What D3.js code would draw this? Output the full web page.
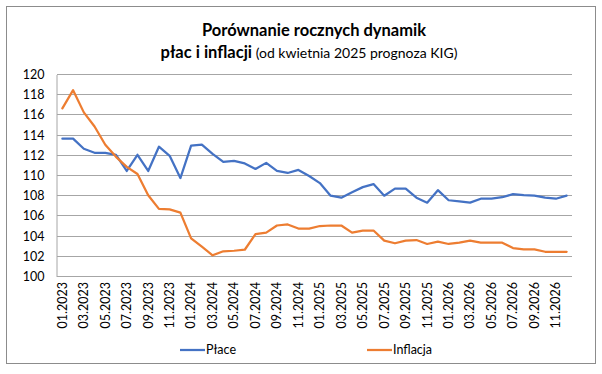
<!DOCTYPE html>
<html>
<head>
<meta charset="utf-8">
<script src="https://cdn.jsdelivr.net/npm/d3@7"></script>
<style>
  body { margin: 0; background: #fff; }
  svg { font-family: Lato, "Open Sans", sans-serif; }
</style>
</head>
<body>
<script>
  // months on the category axis
  let months = [
    "01.2023","02.2023","03.2023","04.2023","05.2023","06.2023","07.2023","08.2023","09.2023","10.2023","11.2023","12.2023",
    "01.2024","02.2024","03.2024","04.2024","05.2024","06.2024","07.2024","08.2024","09.2024","10.2024","11.2024","12.2024",
    "01.2025","02.2025","03.2025","04.2025","05.2025","06.2025","07.2025","08.2025","09.2025","10.2025","11.2025","12.2025",
    "01.2026","02.2026","03.2026","04.2026","05.2026","06.2026","07.2026","08.2026","09.2026","10.2026","11.2026","12.2026"
  ];

  let place = [113.6,113.6,112.6,112.2,112.2,112.0,110.4,112.0,110.4,112.8,111.9,109.7,
    112.9,113.0,112.1,111.3,111.4,111.15,110.6,111.2,110.4,110.2,110.5,109.9,
    109.2,107.95,107.75,108.3,108.8,109.1,107.95,108.65,108.65,107.75,107.26,108.5,
    107.5,107.4,107.26,107.65,107.65,107.8,108.1,108.0,107.95,107.75,107.65,107.95];

  let inflacja = [116.6,118.4,116.2,114.8,113.0,111.8,110.8,110.1,108.0,106.65,106.6,106.27,
    103.73,102.9,102.05,102.45,102.5,102.6,104.15,104.3,105.0,105.1,104.7,104.7,
    104.95,105.0,105.0,104.3,104.5,104.5,103.5,103.24,103.5,103.56,103.17,103.4,
    103.17,103.3,103.5,103.3,103.3,103.3,102.77,102.64,102.64,102.4,102.4,102.4];

  let yTicks = [100,102,104,106,108,110,112,114,116,118,120];

  let series = [
    { name: "Płace", values: place, color: "#4472C4" },
    { name: "Inflacja", values: inflacja, color: "#ED7D31" }
  ];

  let svg = d3.select("body").append("svg")
    .attr("width", 602)
    .attr("height", 374);

  // outer chart border
  svg.append("rect")
    .attr("x", 6.5).attr("y", 6.5)
    .attr("width", 589).attr("height", 357)
    .attr("fill", "#fff")
    .attr("stroke", "#8c8c8c");

  // title
  svg.append("text")
    .attr("x", 314).attr("y", 36)
    .attr("text-anchor", "middle")
    .style("font-size", "16.5px")
    .style("font-weight", "bold")
    .style("fill", "#000")
    .text("Porównanie rocznych dynamik");

  let sub = svg.append("text")
    .attr("x", 309).attr("y", 58)
    .attr("text-anchor", "middle")
    .style("fill", "#000");
  sub.append("tspan")
    .style("font-size", "16.5px")
    .style("font-weight", "bold")
    .text("płac i inflacji");
  sub.append("tspan")
    .style("font-size", "14px")
    .text(" (od kwietnia 2025 prognoza KIG)");

  let xScale = d3.scaleBand()
    .domain(months)
    .range([57, 572]);

  let yScale = d3.scaleLinear()
    .domain([100, 120])
    .range([276, 74]);

  let xMid = (d) => xScale(d) + xScale.bandwidth() / 2;

  // horizontal gridlines
  svg.append("g")
    .selectAll("line")
    .data(yTicks)
    .enter()
    .append("line")
      .attr("x1", 57).attr("x2", 572)
      .attr("y1", (d) => Math.round(yScale(d)) + 0.5)
      .attr("y2", (d) => Math.round(yScale(d)) + 0.5)
      .attr("stroke", "#a6a6a6")
      .attr("stroke-width", 1);

  // y axis
  let yAxis = svg.append("g")
    .attr("transform", "translate(56.5, 0.5)")
    .call(d3.axisLeft(yScale).tickValues(yTicks).tickSize(0).tickPadding(12));
  yAxis.select(".domain").attr("stroke", "#a6a6a6");
  yAxis.selectAll("text")
    .style("font-family", "Lato, 'Open Sans', sans-serif")
    .style("font-size", "12.5px")
    .style("fill", "#000");

  // x axis labels every second month
  let xAxis = svg.append("g")
    .attr("transform", "translate(0, 276)")
    .call(d3.axisBottom(xScale)
      .tickValues(months.filter((d, i) => i % 2 === 0))
      .tickSize(0)
      .tickPadding(0));
  xAxis.select(".domain").remove();
  xAxis.selectAll("text")
    .attr("transform", "rotate(-90)")
    .attr("x", -6)
    .attr("y", 0)
    .attr("dy", "0.35em")
    .attr("text-anchor", "end")
    .style("font-family", "Lato, 'Open Sans', sans-serif")
    .style("font-size", "12.5px")
    .style("fill", "#000");

  // lines
  let line = d3.line()
    .x((d, i) => xMid(months[i]))
    .y((d) => yScale(d));

  series.forEach(function(s) {
    svg.append("path")
      .datum(s.values)
      .attr("d", line)
      .attr("fill", "none")
      .attr("stroke", s.color)
      .attr("stroke-width", 2.25)
      .attr("stroke-linejoin", "round")
      .attr("stroke-linecap", "round");
  });

  // legend
  let legendX = [180, 367];
  series.forEach(function(s, i) {
    svg.append("line")
      .attr("x1", legendX[i]).attr("x2", legendX[i] + 25)
      .attr("y1", 350).attr("y2", 350)
      .attr("stroke", s.color)
      .attr("stroke-width", 2.25);
    svg.append("text")
      .attr("x", legendX[i] + 26)
      .attr("y", 350)
      .attr("dy", "0.35em")
      .style("font-size", "12.5px")
      .style("fill", "#000")
      .text(s.name);
  });
</script>
</body>
</html>
